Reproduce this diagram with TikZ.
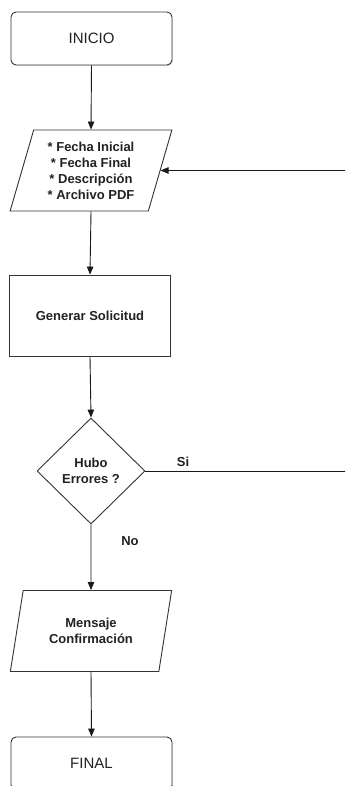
\documentclass[tikz,border=0pt]{standalone}
\usepackage{fontspec}
\setmainfont{Liberation Sans}
\usetikzlibrary{shapes.geometric,arrows.meta,shadows}
\definecolor{ink}{HTML}{222222}
\definecolor{edge}{HTML}{333333}
\begin{document}
\begin{tikzpicture}[x=1pt,y=-1pt,
  boldtxt/.style={font=\bfseries\fontsize{13}{16}\selectfont, text=ink},
  terminal/.style={rectangle, draw=edge, line width=0.9pt, rounded corners=5pt,
    minimum width=161pt, minimum height=53pt, inner sep=0pt, fill=white,
    font=\fontsize{15}{18}\selectfont, text=ink,
    drop shadow={opacity=0.18, shadow xshift=1pt, shadow yshift=-1.2pt}},
  io/.style={trapezium, trapezium left angle=72.8, trapezium right angle=107.2,
    trapezium stretches=true, draw=edge, line width=0.9pt,
    minimum width=162pt, minimum height=81pt, inner sep=0pt, align=center, boldtxt},
  process/.style={rectangle, draw=edge, line width=0.9pt,
    minimum width=161pt, minimum height=81pt, inner sep=0pt, align=center, boldtxt},
  decision/.style={diamond, draw=edge, line width=0.9pt,
    minimum width=108pt, minimum height=106pt, inner sep=0pt, align=center, boldtxt},
  flow/.style={draw=black!90, line width=0.9pt, -{Triangle[width=6.5pt,length=8pt]}},
  lbl/.style={boldtxt, inner sep=0pt}
]
\useasboundingbox (0,0) rectangle (345,786);
\clip (0,0) rectangle (345,786);
\fill[white] (0,0) rectangle (345,786);

% process nodes
\node[terminal] (start) at (91.5,38.5) {INICIO};
\node[io] (in1) at (91,170.5) {* Fecha Inicial\\* Fecha Final\\* Descripción\\* Archivo PDF};
\node[process] (gen) at (90,315.5) {Generar Solicitud};
\node[decision] (dec) at (91,471) {Hubo\\Errores ?};
\node[io] (msg) at (91,631) {Mensaje\\Confirmación};
\node[terminal] (end) at (91.5,763.5) {FINAL};

% branch labels
\node[lbl] (si) at (183,462) {Si};
\node[lbl] (no) at (130,541) {No};

% loop-back turns just past the right margin
\coordinate (loop) at (352,471);

% connectors
\draw[flow] (start.south) -- (in1.north);
\draw[flow] (in1.south) -- (gen.north);
\draw[flow] (gen.south) -- (dec.north);
\draw[flow] (dec.south) -- (msg.north);
\draw[flow] (msg.south) -- (end.north);
\draw[flow] (dec.east) -- (loop) |- (in1.east);
\end{tikzpicture}
\end{document}
